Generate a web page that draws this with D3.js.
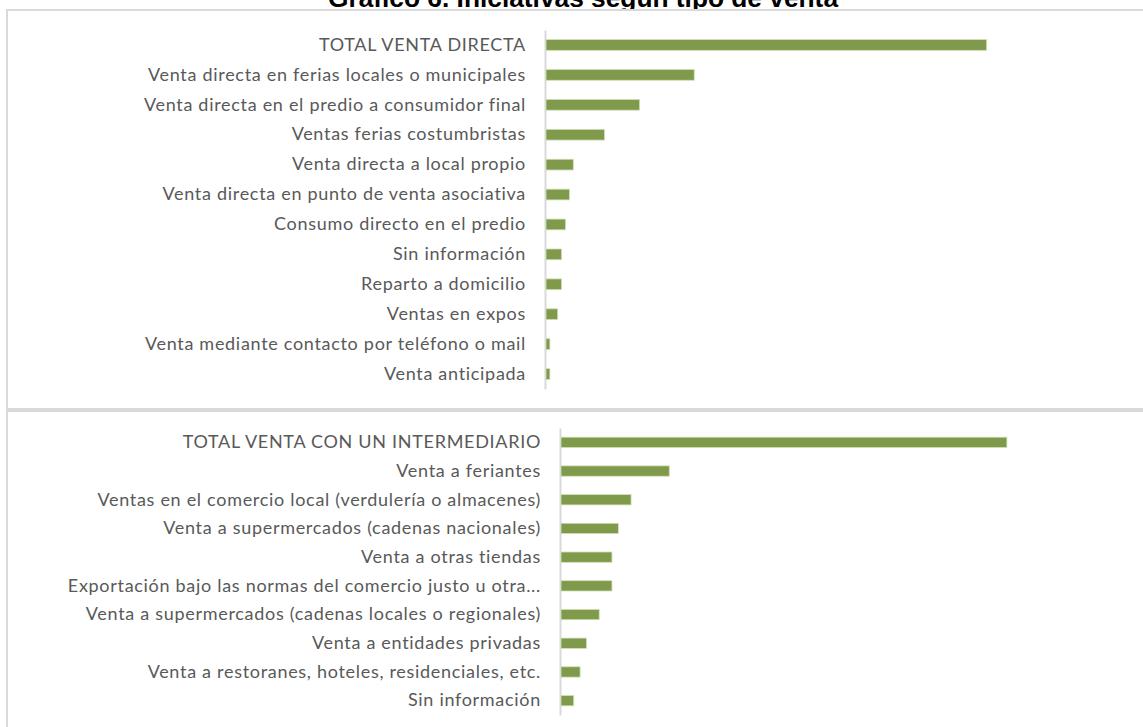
<!DOCTYPE html>
<html>
<head>
<meta charset="utf-8">
<script src="https://cdn.jsdelivr.net/npm/d3@7"></script>
<style>
  body { margin: 0; background: #fff; }
  svg { display: block; }
</style>
</head>
<body>
<div id="chart"></div>
<script>
// data
const title = "Gráfico 6. Iniciativas según tipo de venta";

const directCategories = [
  "TOTAL VENTA DIRECTA",
  "Venta directa en ferias locales o municipales",
  "Venta directa en el predio a consumidor final",
  "Ventas ferias costumbristas",
  "Venta directa a local propio",
  "Venta directa en punto de venta asociativa",
  "Consumo directo en el predio",
  "Sin información",
  "Reparto a domicilio",
  "Ventas en expos",
  "Venta mediante contacto por teléfono o mail",
  "Venta anticipada"
];
const directValues = [113, 38, 24, 15, 7, 6, 5, 4, 4, 3, 1, 1];

const intermCategories = [
  "TOTAL VENTA CON UN INTERMEDIARIO",
  "Venta a feriantes",
  "Ventas en el comercio local (verdulería o almacenes)",
  "Venta a supermercados (cadenas nacionales)",
  "Venta a otras tiendas",
  "Exportación bajo las normas del comercio justo u otra...",
  "Venta a supermercados (cadenas locales o regionales)",
  "Venta a entidades privadas",
  "Venta a restoranes, hoteles, residenciales, etc.",
  "Sin información"
];
const intermValues = [70, 17, 11, 9, 8, 8, 6, 4, 3, 2];

const width = 1143, height = 727;
const barColor = "#7e9a4a";
const gridGray = "#d9d9d9";
const labelColor = "#595959";

const svg = d3.select("#chart").append("svg")
  .attr("width", width)
  .attr("height", height);

svg.append("rect").attr("width", width).attr("height", height).attr("fill", "#fff");

// title sits behind the chart frame, only its lower part shows
svg.append("text")
  .attr("x", 583)
  .attr("y", 6.5)
  .attr("text-anchor", "middle")
  .style("font-family", "'Liberation Sans', Arial, sans-serif")
  .style("font-weight", "bold")
  .style("font-size", "26.3px")
  .attr("fill", "#000")
  .text(title);

// the two frames
svg.append("rect")
  .attr("x", 7).attr("y", 10)
  .attr("width", 1150).attr("height", 399)
  .attr("fill", "#fff").attr("stroke", gridGray).attr("stroke-width", 2);
svg.append("rect")
  .attr("x", 7).attr("y", 411)
  .attr("width", 1150).attr("height", 340)
  .attr("fill", "#fff").attr("stroke", gridGray).attr("stroke-width", 2);

function drawPanel(categories, values, o) {
  const y = d3.scaleBand()
    .domain(categories)
    .range([o.top, o.bottom])
    .paddingInner(0.64)
    .paddingOuter(0.32);

  const x = d3.scaleLinear()
    .domain([0, o.max])
    .range([o.axisX + 1, o.axisX + 1 + o.max * o.unit]);

  const g = svg.append("g");

  const axis = g.append("g")
    .attr("transform", `translate(${o.axisX},0)`)
    .call(d3.axisLeft(y).tickSize(0).tickSizeOuter(0).tickPadding(19));

  axis.select(".domain")
    .attr("stroke", gridGray)
    .attr("stroke-width", 2);

  axis.selectAll(".tick text")
    .attr("fill", labelColor)
    .style("font-family", "Lato, 'Open Sans', sans-serif")
    .style("font-size", "18px")
    .style("letter-spacing", "0.7px");

  g.selectAll(".bar")
    .data(values)
    .join("rect")
      .attr("class", "bar")
      .attr("x", x(0))
      .attr("y", (d, i) => y(categories[i]))
      .attr("width", d => x(d) - x(0))
      .attr("height", y.bandwidth())
      .attr("fill", barColor)
      .attr("stroke", "#d3e0bb")
      .attr("stroke-width", 0.8);
}

drawPanel(directCategories, directValues, {
  top: 30, bottom: 389, axisX: 545, max: 120, unit: 3.9
});

drawPanel(intermCategories, intermValues, {
  top: 428, bottom: 715, axisX: 560, max: 80, unit: 6.37
});
</script>
</body>
</html>
